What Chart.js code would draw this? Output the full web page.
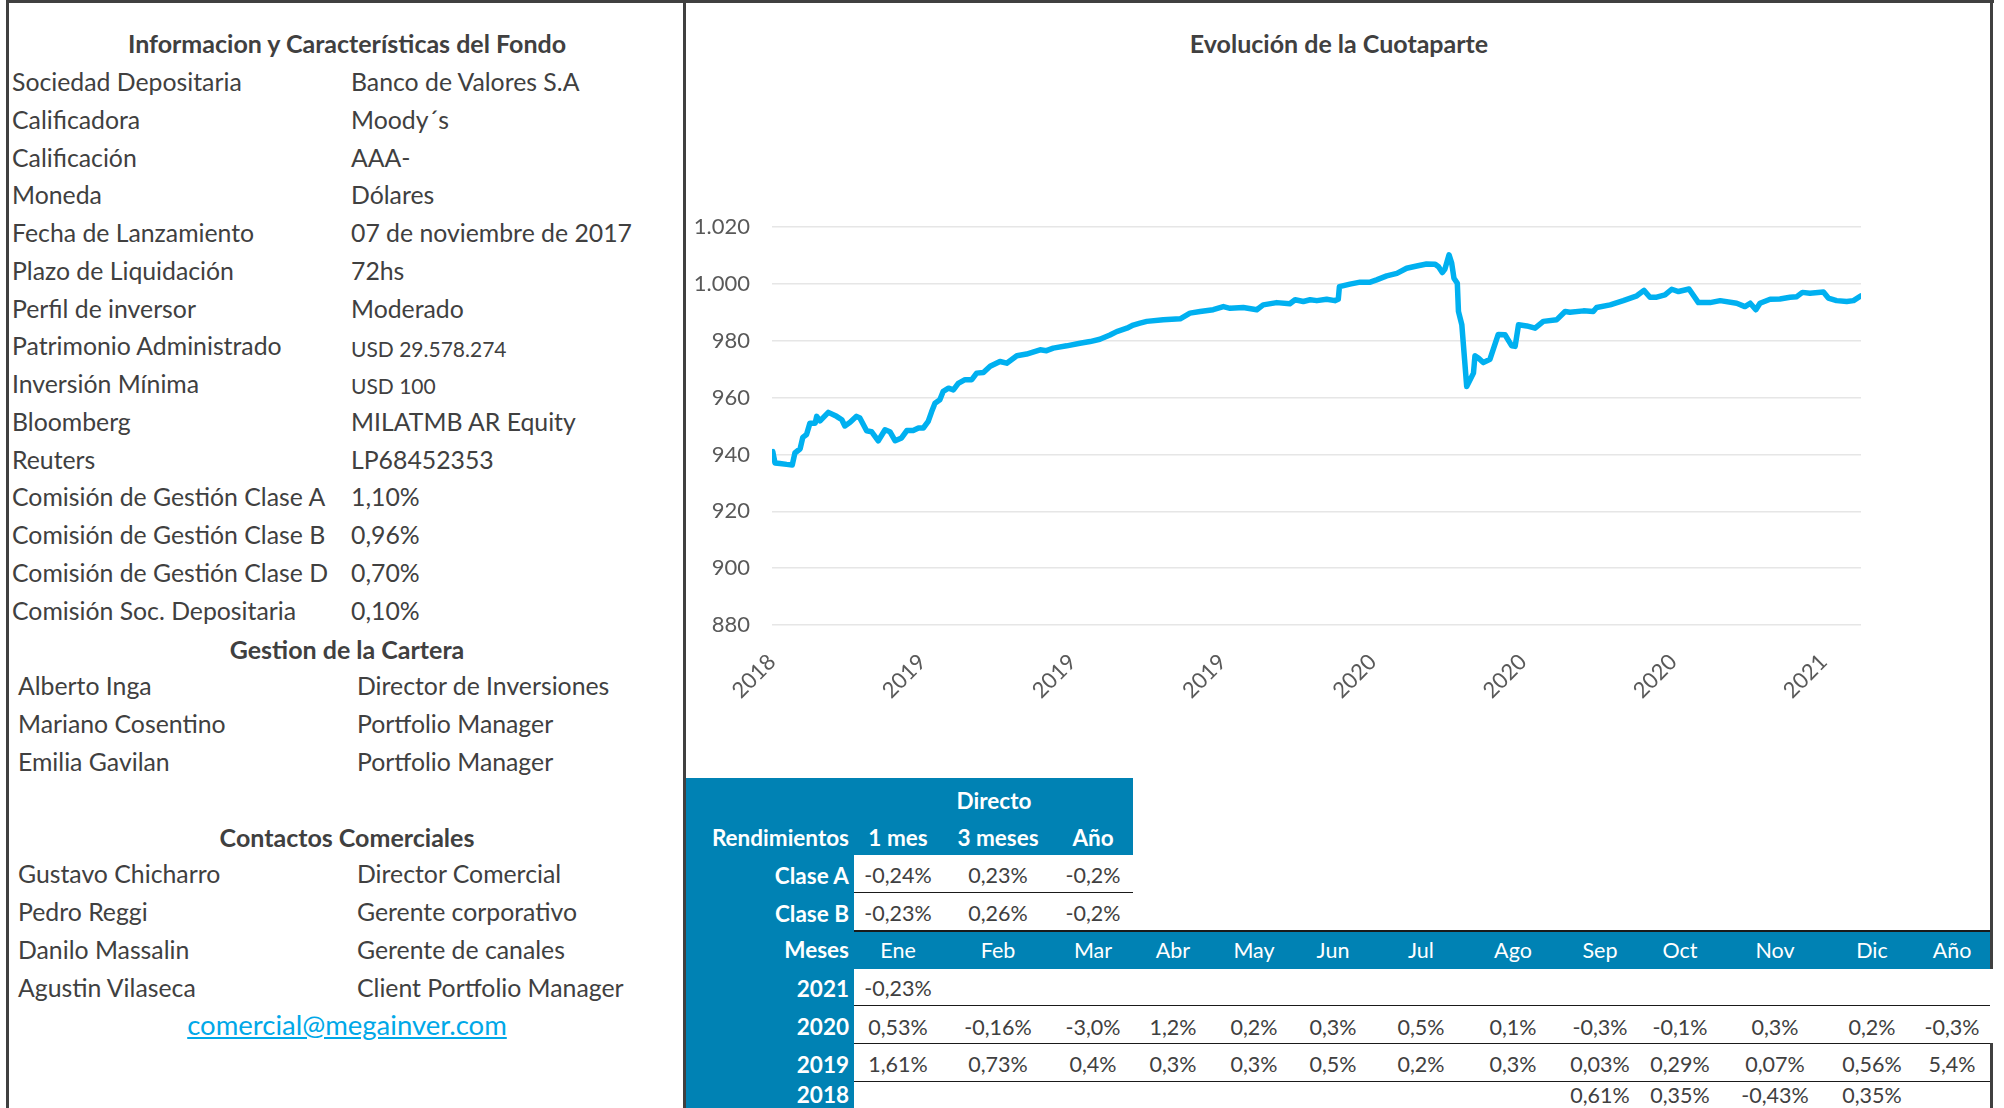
<!DOCTYPE html>
<html lang="es">
<head>
<meta charset="utf-8">
<title>Evolución de la Cuotaparte</title>
<script src="https://cdn.jsdelivr.net/npm/chart.js@4.4.1/dist/chart.umd.min.js"></script>
<style>
  html, body { margin: 0; padding: 0; background: #fff; }
  body { width: 2004px; height: 1108px; position: relative; overflow: hidden;
         font-family: Lato, "Open Sans", sans-serif; color: #404040; }
  .t { position: absolute; white-space: nowrap; line-height: 1; }
  .box { position: absolute; }
  #chartWrap { position: absolute; left: 686px; top: 100px; width: 1300px; height: 620px; }
</style>
</head>
<body>
<div id="chartWrap"><canvas id="cuotaChart"></canvas></div>
<script>
// --- datos del gráfico (meses desde sep-2018, valor de la cuotaparte) ---
const mesX = [
  0.02, 0.08, 0.21, 0.39, 0.54, 0.61, 0.75, 0.82, 0.92, 1.01, 1.15, 1.19, 1.28, 1.50, 1.72, 1.86,
  1.94, 2.08, 2.25, 2.34, 2.52, 2.65, 2.83, 3.01, 3.14, 3.28, 3.45, 3.59, 3.76, 3.90, 4.03, 4.16,
  4.25, 4.34, 4.47, 4.56, 4.70, 4.83, 4.96, 5.14, 5.32, 5.45, 5.63, 5.81, 6.07, 6.25, 6.52, 6.78,
  7.14, 7.31, 7.49, 7.85, 8.20, 8.47, 8.73, 9.00, 9.18, 9.45, 9.62, 9.80, 9.98, 10.42, 10.87, 11.13,
  11.40, 11.75, 12.02, 12.20, 12.55, 12.91, 13.08, 13.44, 13.79, 13.93, 14.15, 14.33, 14.51, 14.77,
  14.99, 15.08, 15.11, 15.39, 15.66, 15.93, 16.10, 16.37, 16.64, 16.90, 17.17, 17.43, 17.66, 17.75,
  17.85, 17.92, 18.03, 18.10, 18.16, 18.25, 18.28, 18.37, 18.43, 18.50, 18.68, 18.72, 18.81, 18.94,
  19.12, 19.34, 19.52, 19.70, 19.79, 19.88, 20.10, 20.32, 20.54, 20.90, 21.12, 21.25, 21.61, 21.87,
  21.96, 22.32, 22.67, 23.03, 23.22, 23.38, 23.56, 23.78, 23.96, 24.14, 24.42, 24.67, 24.98, 25.25,
  25.69, 25.91, 26.05, 26.20, 26.31, 26.58, 26.84, 27.11, 27.29, 27.44, 27.64, 28.00, 28.13, 28.35,
  28.62, 28.80, 29.00
];
const cuota = [
  941, 937, 936.8, 936.5, 936.3, 940.5, 942, 946, 947, 951, 951, 953.4, 951.8, 954.8, 953.4, 952.2,
  950, 951.3, 953.4, 952.8, 948.3, 948, 944.8, 948.7, 948, 944.8, 945.8, 948.4, 948.4, 949.3, 949.3, 951.6,
  955, 958, 959.2, 962.2, 963.3, 962.7, 965, 966.3, 966.3, 968.6, 968.8, 971, 972.7, 972.1, 974.7, 975.3,
  976.8, 976.5, 977.4, 978.2, 979.1, 979.7, 980.5, 982, 983.2, 984.4, 985.5, 986.2, 986.8, 987.4, 987.7, 989.7,
  990.3, 990.9, 992, 991.4, 991.7, 990.9, 992.6, 993.4, 993, 994.4, 993.8, 994.4, 994.1, 994.6,
  994.1, 994.6, 999, 999.9, 1000.6, 1000.6, 1001.4, 1002.8, 1003.7, 1005.5, 1006.3, 1007, 1006.9, 1006,
  1004, 1005.2, 1010.2, 1007.3, 1002, 1000.2, 990.3, 985.6, 975.6, 963.9, 968.6, 974.7, 973.9, 972.3,
  973.5, 982.2, 982.1, 978.2, 978, 985.6, 985.2, 984.4, 986.8, 987.4, 990.3, 990, 990.5, 990.3,
  991.7, 992.6, 994.1, 995.8, 997.7, 995.3, 995.3, 996.1, 998.1, 997.3, 998.2, 993.4, 993.4, 994.1,
  993.2, 992, 993.2, 990.9, 993.2, 994.6, 994.7, 995.3, 995.5, 997, 996.7, 997.1, 995, 994.1,
  993.8, 994.1, 995.8
];
const tickYears = ["2018", "2019", "2019", "2019", "2020", "2020", "2020", "2021"];

// --- tabla de rendimientos ---
const rendCols = ["1 mes", "3 meses", "Año"];
const claseA = ["-0,24%", "0,23%", "-0,2%"];
const claseB = ["-0,23%", "0,26%", "-0,2%"];
const meses = ["Ene", "Feb", "Mar", "Abr", "May", "Jun", "Jul", "Ago", "Sep", "Oct", "Nov", "Dic", "Año"];
const r2021 = ["-0,23%", "", "", "", "", "", "", "", "", "", "", "", ""];
const r2020 = ["0,53%", "-0,16%", "-3,0%", "1,2%", "0,2%", "0,3%", "0,5%", "0,1%", "-0,3%", "-0,1%", "0,3%", "0,2%", "-0,3%"];
const r2019 = ["1,61%", "0,73%", "0,4%", "0,3%", "0,3%", "0,5%", "0,2%", "0,3%", "0,03%", "0,29%", "0,07%", "0,56%", "5,4%"];
const r2018 = ["", "", "", "", "", "", "", "", "0,61%", "0,35%", "-0,43%", "0,35%", ""];

// --- ficha del fondo ---
const ficha = [
  ["Sociedad Depositaria", "Banco de Valores S.A"],
  ["Calificadora", "Moody´s"],
  ["Calificación", "AAA-"],
  ["Moneda", "Dólares"],
  ["Fecha de Lanzamiento", "07 de noviembre de 2017"],
  ["Plazo de Liquidación", "72hs"],
  ["Perfil de inversor", "Moderado"],
  ["Patrimonio Administrado", "USD 29.578.274"],
  ["Inversión Mínima", "USD 100"],
  ["Bloomberg", "MILATMB AR Equity"],
  ["Reuters", "LP68452353"],
  ["Comisión de Gestión Clase A", "1,10%"],
  ["Comisión de Gestión Clase B", "0,96%"],
  ["Comisión de Gestión Clase D", "0,70%"],
  ["Comisión Soc. Depositaria", "0,10%"]
];
const gestion = [
  ["Alberto Inga", "Director de Inversiones"],
  ["Mariano Cosentino", "Portfolio Manager"],
  ["Emilia Gavilan", "Portfolio Manager"]
];
const contactos = [
  ["Gustavo Chicharro", "Director Comercial"],
  ["Pedro Reggi", "Gerente corporativo"],
  ["Danilo Massalin", "Gerente de canales"],
  ["Agustin Vilaseca", "Client Portfolio Manager"]
];

const BLUE = "#0082b4";
const GRAY = "#404040";
const BODY = 24.8;

function txt(x, base, str, o = {}) {
  const size = o.size || BODY;
  const el = document.createElement("div");
  el.className = "t";
  el.textContent = str;
  el.style.fontSize = size + "px";
  el.style.left = x + "px";
  el.style.top = (base - 0.887 * size) + "px";
  if (o.bold) el.style.fontWeight = "700";
  if (o.color) el.style.color = o.color;
  if (o.align === "center") el.style.transform = "translateX(-50%)";
  if (o.align === "right") el.style.transform = "translateX(-100%)";
  if (o.underline) el.style.textDecoration = "underline";
  document.body.appendChild(el);
}
function rect(x, y, w, h, color) {
  const el = document.createElement("div");
  el.className = "box";
  Object.assign(el.style, { left: x + "px", top: y + "px", width: w + "px", height: h + "px", background: color });
  document.body.appendChild(el);
}

// marcos
rect(6, 0, 1988, 3, GRAY);
rect(6, 0, 3, 1108, GRAY);
rect(683, 0, 3, 1108, GRAY);
rect(1990, 0, 3, 969, GRAY);
rect(1990, 1043, 3, 65, GRAY);

// panel izquierdo
txt(347, 53, "Informacion y Características del Fondo", { bold: true, align: "center", size: 25 });
ficha.forEach(([k, v], i) => {
  const b = 92 + 37.75 * i;
  txt(12, b, k);
  const small = v.startsWith("USD");
  txt(351, b, v, small ? { size: 21 } : {});
});
txt(347, 659, "Gestion de la Cartera", { bold: true, align: "center", size: 25 });
gestion.forEach(([n, r], i) => {
  const b = 696 + 38 * i;
  txt(18, b, n);
  txt(357, b, r);
});
txt(347, 847, "Contactos Comerciales", { bold: true, align: "center", size: 25 });
contactos.forEach(([n, r], i) => {
  const b = 884 + 38.1 * i;
  txt(18, b, n);
  txt(357, b, r);
});
txt(347, 1035, "comercial@megainver.com", { align: "center", color: "#00a8e8", underline: true, size: 27.5 });

// título del gráfico
txt(1339, 53, "Evolución de la Cuotaparte", { bold: true, align: "center", size: 25 });

// tabla
const colX = [898, 998, 1093, 1173, 1254, 1333, 1421, 1513, 1600, 1680, 1775, 1872, 1952];
const labRight = 849;
const W = "#ffffff";
const HB = 22.5;   // etiquetas en negrita
const TV = 21.5;   // valores
rect(686, 778, 447, 77, BLUE);          // cabecera "Directo"
rect(686, 778, 168, 330, BLUE);         // columna de etiquetas
rect(686, 931, 1304, 38, BLUE);         // fila "Meses"
rect(854, 891.5, 279, 1.5, "#1a1a1a");
rect(854, 929.5, 1136, 2, "#1a1a1a");
[1004.5, 1042.5, 1080.5].forEach(y => rect(854, y, 1136, 1.5, "#1a1a1a"));

txt(994, 810, "Directo", { bold: true, color: W, align: "center", size: HB });
txt(labRight, 847, "Rendimientos", { bold: true, color: W, align: "right", size: HB });
rendCols.forEach((c, i) => txt(colX[i], 847, c, { bold: true, color: W, align: "center", size: HB }));
txt(labRight, 884.5, "Clase A", { bold: true, color: W, align: "right", size: HB });
claseA.forEach((v, i) => txt(colX[i], 884.5, v, { align: "center", size: TV }));
txt(labRight, 922.5, "Clase B", { bold: true, color: W, align: "right", size: HB });
claseB.forEach((v, i) => txt(colX[i], 922.5, v, { align: "center", size: TV }));
txt(labRight, 959, "Meses", { bold: true, color: W, align: "right", size: HB });
meses.forEach((m, i) => txt(colX[i], 959, m, { color: W, align: "center", size: TV }));
[["2021", r2021, 997.5], ["2020", r2020, 1036], ["2019", r2019, 1073.5], ["2018", r2018, 1104]]
  .forEach(([y, row, b]) => {
    txt(labRight, b, y, { bold: true, color: W, align: "right", size: HB });
    row.forEach((v, i) => { if (v) txt(colX[i], b, v, { align: "center", size: TV }); });
  });

// gráfico
const fmtMiles = v => v >= 1000 ? Math.floor(v / 1000) + "." + String(v % 1000).padStart(3, "0") : String(v);

new Chart(document.getElementById("cuotaChart"), {
  type: "line",
  data: {
    datasets: [{
      data: mesX.map((x, i) => ({ x, y: cuota[i] })),
      borderColor: "#00b0f0",
      borderWidth: 5.5,
      pointRadius: 0,
      tension: 0,
      borderJoinStyle: "round",
      borderCapStyle: "round"
    }]
  },
  options: {
    responsive: true,
    maintainAspectRatio: false,
    animation: false,
    layout: { padding: { top: 127, right: 125, bottom: 0, left: 0 } },
    plugins: { legend: { display: false }, tooltip: { enabled: false } },
    scales: {
      x: {
        type: "linear",
        min: 0,
        max: 29,
        grid: { display: false },
        border: { display: false },
        afterBuildTicks: s => { s.ticks = tickYears.map((_, i) => ({ value: i * 4 })); },
        afterFit: s => { s.height = 95; },
        ticks: {
          autoSkip: false,
          minRotation: 45,
          maxRotation: 45,
          padding: 16,
          color: "#595959",
          font: { family: "Lato", size: 22 },
          callback: (v, i) => tickYears[i]
        }
      },
      y: {
        min: 880,
        max: 1020,
        grid: { color: "#e6e6e6", lineWidth: 1.5, drawTicks: false },
        border: { display: false },
        afterFit: s => { s.width = 86; },
        ticks: {
          stepSize: 20,
          padding: 22,
          color: "#595959",
          font: { family: "Lato", size: 22 },
          callback: v => fmtMiles(v)
        }
      }
    }
  }
});
</script>
</body>
</html>
